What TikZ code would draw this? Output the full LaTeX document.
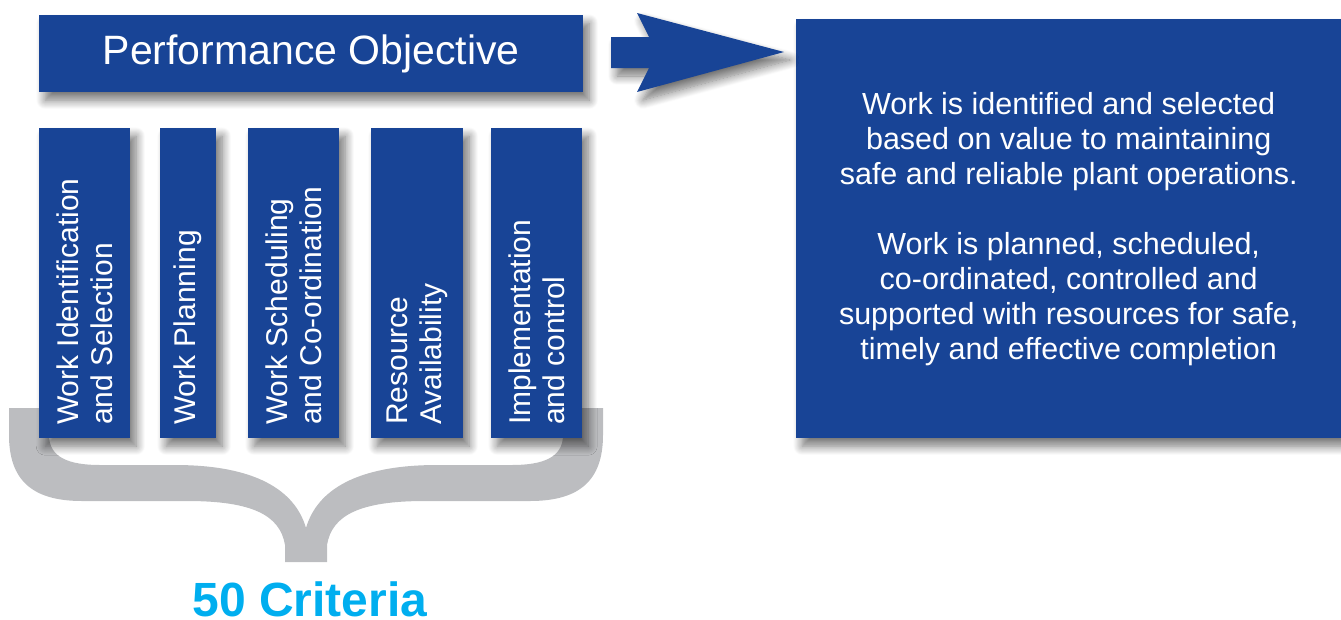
\documentclass[tikz,border=0pt]{standalone}
\usepackage{fontspec}
\setmainfont{Liberation Sans}
\usetikzlibrary{shadows.blur}
\definecolor{boxblue}{RGB}{24,68,150}
\definecolor{bracegray}{RGB}{188,189,192}
\definecolor{critcyan}{RGB}{0,174,239}

\begin{document}
\begin{tikzpicture}[x=1pt,y=-1pt,
  softshadow/.style={blur shadow={shadow xshift=6pt, shadow yshift=-8pt,
      shadow blur radius=9pt, shadow blur steps=12, shadow opacity=55}},
  bluebox/.style={fill=boxblue, draw=none, inner sep=0pt, anchor=north west,
      softshadow, text=white},
  coltext/.style={text=white, font=\fontsize{30}{34}\selectfont, align=left,
      rotate=90, anchor=west, inner sep=0pt},
]
\useasboundingbox (0,0) rectangle (1341,619);

% curly brace gathering the five columns
\fill[bracegray] (9,408) -- (49,408) -- (49,435)
  .. controls (49,458) and (70,465) .. (100,465) -- (175,465)
  .. controls (255,465) and (295,490) .. (306,528)
  .. controls (317,490) and (357,465) .. (437,465) -- (512,465)
  .. controls (542,465) and (563,458) .. (563,435) -- (563,408)
  -- (603,408) -- (603,435)
  .. controls (603,480) and (580,501) .. (530,501) -- (425,501)
  .. controls (360,501) and (332,515) .. (327,545) -- (327,562)
  -- (285,562) -- (285,545)
  .. controls (280,515) and (252,501) .. (187,501) -- (82,501)
  .. controls (32,501) and (9,480) .. (9,435) -- cycle;

% heading box
\node[bluebox, minimum width=544pt, minimum height=77pt,
      font=\fontsize{41}{49}\selectfont] (po) at (39,15) {Performance Objective};

% the five criteria columns
\node[bluebox, minimum width=91pt, minimum height=310pt] (c1) at (39,128) {};
\node[bluebox, minimum width=56pt, minimum height=310pt] (c2) at (160,128) {};
\node[bluebox, minimum width=91pt, minimum height=310pt] (c3) at (248,128) {};
\node[bluebox, minimum width=92pt, minimum height=310pt] (c4) at (371,128) {};
\node[bluebox, minimum width=91pt, minimum height=310pt] (c5) at (491,128) {};

\node[coltext] (t1) at (c1.center |- 0,425) {Work Identification\\and Selection};
\node[coltext] (t2) at (c2.center |- 0,425) {Work Planning};
\node[coltext] (t3) at (c3.center |- 0,425) {Work Scheduling\\and Co-ordination};
\node[coltext] (t4) at (c4.center |- 0,425) {Resource\\Availability};
\node[coltext] (t5) at (c5.center |- 0,425) {Implementation\\and control};

% description box
\node[bluebox, minimum width=545pt, minimum height=419pt, align=center,
      font=\fontsize{30.5}{35}\selectfont] (desc) at (796,19)
  {Work is identified and selected\\based on value to maintaining\\safe and reliable plant operations.\\[35pt]
   Work is planned, scheduled,\\co-ordinated, controlled and\\supported with resources for safe,\\timely and effective completion};

% arrow from heading to description
\fill[boxblue, softshadow] (611,37) -- (649,37) -- (637,13) -- (784,52)
  -- (637,92) -- (649,68) -- (611,68) -- cycle;

% caption under the brace
\node[anchor=base, inner sep=0pt, text=critcyan,
      font=\fontsize{48}{56}\selectfont\bfseries] (crit) at (310,616) {50 Criteria};
\end{tikzpicture}
\end{document}
